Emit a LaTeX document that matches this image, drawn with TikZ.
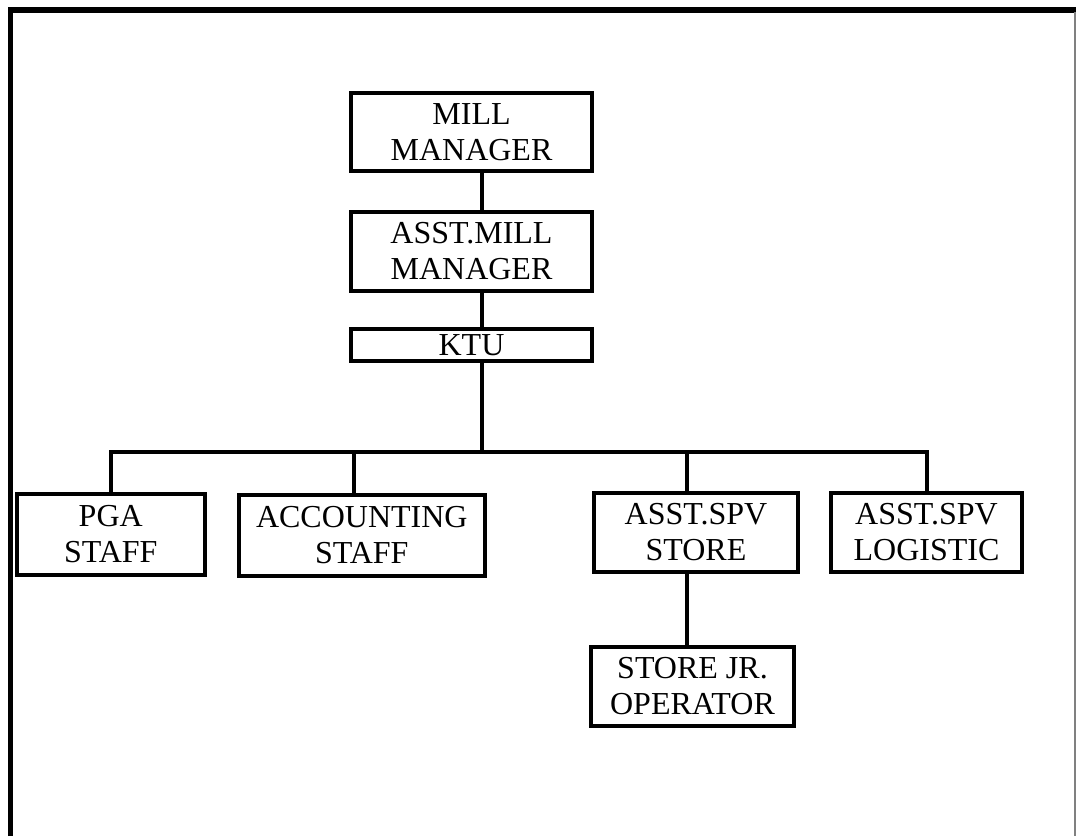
\documentclass[tikz,border=0pt]{standalone}
\usepackage{fontspec}
\setmainfont{Liberation Serif}
\usepackage{tikz}
\usetikzlibrary{positioning}

\tikzset{
    box/.style={draw, line width=2pt, align=center, inner sep=0pt,
        font=\fontsize{16}{18}\selectfont},
    link/.style={line width=2pt},
    frame/.style={line width=2.75pt}
}

\begin{document}
\begin{tikzpicture}[x=0.5pt,y=-0.5pt]
    \useasboundingbox (0,0) rectangle (1076,836);
    % Draw the frame
    \draw [frame] (10.5,836) -- (10.5,10) -- (1076,10);
    \draw [gray,line width=0.7pt] (1075,12) -- (1075,836);

    % Draw the boxes
    \node [box,minimum width=120.5pt,minimum height=39pt] (mill) at (471.5,132) {MILL\\MANAGER};
    \node [box,minimum width=120.5pt,minimum height=39.5pt] (amm) at (471.5,251.5) {ASST.MILL\\MANAGER};
    \node [box,minimum width=120.5pt,minimum height=16pt] (ktu) at (471.5,345) {KTU};
    \node [box,minimum width=94.25pt,minimum height=40.5pt] (pga) at (110.75,534.5) {PGA\\STAFF};
    \node [box,minimum width=123pt,minimum height=40.5pt] (acct) at (361.8,535.5) {ACCOUNTING\\STAFF};
    \node [box,minimum width=102pt,minimum height=39.5pt] (spvstore) at (696,532.5) {ASST.SPV\\STORE};
    \node [box,minimum width=95.5pt,minimum height=39.5pt] (spvlog) at (926.5,532.5) {ASST.SPV\\LOGISTIC};
    \node [box,minimum width=101.5pt,minimum height=39.5pt] (jr) at (692.5,686.5) {STORE JR.\\OPERATOR};

    % Draw the lines
    \coordinate (trunk) at (482,0);
    \coordinate (bus) at (0,452);
    \coordinate (storeline) at (687,0);
    \draw [link] (mill.south -| trunk) -- (amm.north -| trunk);
    \draw [link] (amm.south -| trunk) -- (ktu.north -| trunk);
    \draw [link] (ktu.south -| trunk) -- (bus -| trunk);
    \draw [link] (pga.north) -- (pga.north |- bus) -- (spvlog.north |- bus) -- (spvlog.north);
    \draw [link] ([xshift=-4pt]acct.north) -- ([xshift=-4pt]acct.north |- bus);
    \draw [link] (storeline |- bus) -- (storeline |- spvstore.north);
    \draw [link] (storeline |- spvstore.south) -- (storeline |- jr.north);

\end{tikzpicture}
\end{document}
